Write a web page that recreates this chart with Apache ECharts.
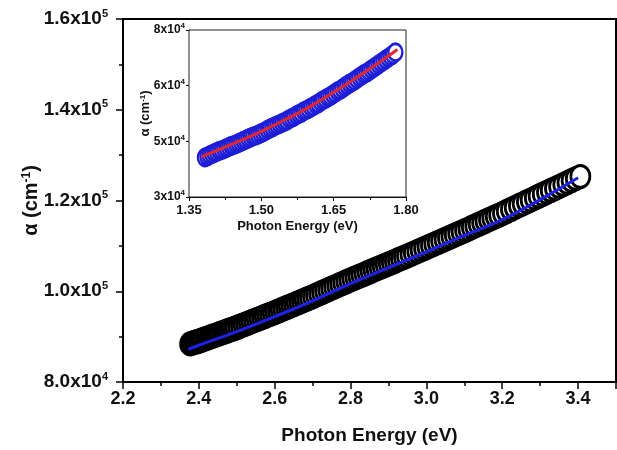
<!DOCTYPE html>
<html>
<head>
<meta charset="utf-8">
<script src="https://cdn.jsdelivr.net/npm/echarts@6/dist/echarts.min.js"></script>
<style>
  html, body { margin: 0; padding: 0; background: #fff; }
  #chart { width: 617px; height: 450px; }
</style>
</head>
<body>
<div id="chart"></div>
<script>
// main panel: measured points (eV, cm^-1)
const mainEnergy = [
  2.377, 2.383, 2.389, 2.395, 2.401, 2.407, 2.413, 2.419, 2.425, 2.431, 2.437, 2.443, 2.449, 2.455, 2.461, 2.467, 2.473, 2.479, 2.485, 2.491, 2.497,
  2.504, 2.511, 2.518, 2.525, 2.532, 2.539, 2.546, 2.553, 2.560, 2.567, 2.574, 2.581, 2.588, 2.595, 2.602, 2.609, 2.616, 2.623, 2.630, 2.637, 2.644, 2.651, 2.658, 2.665, 2.672, 2.679, 2.686, 2.693,
  2.701, 2.709, 2.717, 2.725, 2.733, 2.741, 2.749, 2.757, 2.765, 2.773, 2.781, 2.789, 2.797, 2.805, 2.813, 2.821, 2.829, 2.837, 2.845, 2.853, 2.861, 2.869, 2.877, 2.885, 2.893, 2.901, 2.909, 2.917, 2.925, 2.933, 2.941, 2.949,
  2.958, 2.967, 2.976, 2.985, 2.994, 3.003, 3.012, 3.021, 3.030, 3.039, 3.048, 3.057, 3.066, 3.075, 3.084, 3.093, 3.102, 3.111, 3.120, 3.129, 3.138, 3.147, 3.156, 3.165, 3.174, 3.183, 3.192,
  3.202, 3.212, 3.223, 3.233, 3.244, 3.254, 3.265, 3.275, 3.286, 3.296, 3.307, 3.318, 3.328, 3.339, 3.350, 3.361, 3.372, 3.383, 3.394, 3.406
]
const mainAlpha = [
  88400, 88560, 88720, 88880, 89030, 89210, 89390, 89570, 89750, 89930, 90110, 90290, 90470, 90650, 90830, 91010, 91190, 91370, 91550, 91730, 91910,
  92130, 92360, 92590, 92820, 93060, 93290, 93520, 93750, 93980, 94210, 94440, 94670, 94900, 95130, 95370, 95610, 95860, 96100, 96350, 96590, 96840, 97080, 97330, 97570, 97820, 98060, 98310, 98550,
  98840, 99140, 99430, 99730, 100030, 100320, 100620, 100910, 101210, 101510, 101800, 102100, 102390, 102680, 102960, 103240, 103520, 103800, 104080, 104360, 104640, 104920, 105200, 105480, 105760, 106040, 106320, 106610, 106900, 107190, 107480, 107760,
  108090, 108410, 108740, 109060, 109380, 109710, 110040, 110380, 110710, 111040, 111380, 111710, 112040, 112380, 112710, 113040, 113370, 113710, 114060, 114400, 114740, 115080, 115430, 115770, 116110, 116450, 116800,
  117180, 117580, 118020, 118420, 118860, 119260, 119700, 120100, 120540, 120940, 121380, 121810, 122210, 122640, 123080, 123510, 123950, 124380, 124820, 125290
]
// main panel: fitted curve (blue)
const fitEnergy = [2.372, 2.40, 2.50, 2.60, 2.70, 2.80, 2.90, 3.00, 3.10, 3.20, 3.30, 3.40]
const fitAlpha = [87200, 88100, 91100, 94400, 97900, 101700, 105200, 108700, 112300, 115800, 120200, 125000]

// inset: alpha is in inset axis units (equally spaced ticks labelled 3, 5, 6, 8 x10^4)
const insetEnergy = [
  1.383, 1.388, 1.393, 1.398, 1.403, 1.408, 1.413, 1.418, 1.423, 1.428, 1.433, 1.438, 1.443, 1.448, 1.453, 1.458, 1.463, 1.468, 1.473, 1.478,
  1.483, 1.488, 1.493, 1.498, 1.503, 1.508, 1.513, 1.518, 1.523, 1.528, 1.533, 1.538, 1.543, 1.548, 1.553, 1.558, 1.563, 1.568, 1.573, 1.578,
  1.583, 1.588, 1.593, 1.598, 1.603, 1.608, 1.613, 1.618, 1.623, 1.628, 1.633, 1.638, 1.643, 1.648, 1.653, 1.658, 1.663, 1.668, 1.673, 1.678,
  1.683, 1.688, 1.693, 1.698, 1.703, 1.708, 1.713, 1.718, 1.723, 1.728, 1.733, 1.738, 1.743, 1.748, 1.753, 1.758, 1.763, 1.768, 1.773, 1.778
]
const insetAlpha = [
  0.71, 0.73, 0.75, 0.77, 0.79, 0.81, 0.83, 0.84, 0.86, 0.88, 0.90, 0.92, 0.93, 0.95, 0.97, 0.99, 1.01, 1.03, 1.05, 1.07,
  1.09, 1.10, 1.12, 1.14, 1.16, 1.18, 1.21, 1.23, 1.25, 1.27, 1.29, 1.31, 1.33, 1.35, 1.37, 1.40, 1.42, 1.44, 1.47, 1.49,
  1.51, 1.54, 1.56, 1.58, 1.61, 1.63, 1.66, 1.68, 1.71, 1.74, 1.76, 1.79, 1.81, 1.84, 1.87, 1.90, 1.92, 1.95, 1.98, 2.01,
  2.04, 2.06, 2.09, 2.12, 2.15, 2.18, 2.21, 2.23, 2.26, 2.29, 2.32, 2.35, 2.38, 2.41, 2.44, 2.47, 2.50, 2.53, 2.56, 2.60
]
const insetFitEnergy = [1.376, 1.45, 1.50, 1.55, 1.60, 1.65, 1.70, 1.75, 1.782]
const insetFitAlpha = [0.72, 0.99, 1.18, 1.39, 1.62, 1.88, 2.16, 2.45, 2.65]
const insetYMantissa = ['3', '5', '6', '8']
const insetYExponent = '4'

const FONT = '"Liberation Sans", Arial, sans-serif'
const ELLIPSE = 'path://M0,-1A1,1,0,1,1,0,1A1,1,0,1,1,0,-1Z'

function zip(xs, ys) {
  return xs.map((x, i) => [x, ys[i]])
}

function sciLabel(v) {
  const exp = Math.floor(Math.log10(v) + 1e-9)
  const mant = (v / Math.pow(10, exp)).toFixed(1)
  return `{m|${mant}x10}{e|${exp}}`
}

const chart = echarts.init(document.getElementById('chart'), null, { renderer: 'canvas' })

chart.setOption({
  backgroundColor: '#fff',
  animation: false,
  grid: [
    { left: 123, right: 1, top: 19, bottom: 68, show: true, borderColor: '#000', borderWidth: 2, backgroundColor: 'transparent' },
    { left: 189, top: 30, width: 217, height: 167, show: true, borderColor: '#222', borderWidth: 1, backgroundColor: '#fff', z: 5 }
  ],
  xAxis: [
    {
      gridIndex: 0, type: 'value', min: 2.2, max: 3.5, interval: 0.2,
      name: 'Photon Energy (eV)', nameLocation: 'middle', nameGap: 44, nameMoveOverlap: false,
      nameTextStyle: { fontFamily: FONT, fontWeight: 'bold', fontSize: 19, color: '#111' },
      axisLine: { lineStyle: { color: '#000', width: 2 } },
      axisTick: { inside: false, length: 7, lineStyle: { color: '#000', width: 1.5 } },
      minorTick: { show: true, splitNumber: 2, length: 4, lineStyle: { color: '#000', width: 1.5 } },
      splitLine: { show: false },
      axisLabel: {
        margin: 8, fontFamily: FONT, fontWeight: 'bold', fontSize: 18, color: '#111',
        showMaxLabel: false, formatter: v => v.toFixed(1)
      }
    },
    {
      gridIndex: 1, type: 'value', min: 1.35, max: 1.80, interval: 0.15,
      name: 'Photon Energy (eV)', nameLocation: 'middle', nameGap: 23, nameMoveOverlap: false,
      nameTextStyle: { fontFamily: FONT, fontWeight: 'bold', fontSize: 13, color: '#111' },
      axisLine: { lineStyle: { color: '#000', width: 1 } },
      axisTick: { length: 4, lineStyle: { color: '#000' } },
      minorTick: { show: true, splitNumber: 2, length: 3, lineStyle: { color: '#000' } },
      splitLine: { show: false },
      axisLabel: { margin: 7, fontFamily: FONT, fontWeight: 'bold', fontSize: 13, color: '#111', formatter: v => v.toFixed(2) }
    }
  ],
  yAxis: [
    {
      gridIndex: 0, type: 'value', min: 80000, max: 160000, interval: 20000,
      name: '{a|\u03b1 (cm}{s|-1}{a|)}', nameLocation: 'middle', nameGap: 82, nameRotate: 90, nameMoveOverlap: false,
      nameTextStyle: {
        rich: {
          a: { fontFamily: FONT, fontWeight: 'bold', fontSize: 20, color: '#111' },
          s: { fontFamily: FONT, fontWeight: 'bold', fontSize: 12, color: '#111', verticalAlign: 'top' }
        }
      },
      axisLine: { lineStyle: { color: '#000', width: 2 } },
      axisTick: { length: 7, lineStyle: { color: '#000', width: 1.5 } },
      minorTick: { show: true, splitNumber: 2, length: 4, lineStyle: { color: '#000', width: 1.5 } },
      splitLine: { show: false },
      axisLabel: {
        margin: 15, formatter: sciLabel,
        rich: {
          m: { fontFamily: FONT, fontWeight: 'bold', fontSize: 19, color: '#111', lineHeight: 22 },
          e: { fontFamily: FONT, fontWeight: 'bold', fontSize: 11, color: '#111', verticalAlign: 'top', lineHeight: 22 }
        }
      }
    },
    {
      gridIndex: 1, type: 'value', min: 0, max: 3, interval: 1,
      name: '{a|\u03b1 (cm}{s|-1}{a|)}', nameLocation: 'middle', nameGap: 37, nameRotate: 90, nameMoveOverlap: false,
      nameTextStyle: {
        rich: {
          a: { fontFamily: FONT, fontWeight: 'bold', fontSize: 13, color: '#111' },
          s: { fontFamily: FONT, fontWeight: 'bold', fontSize: 8, color: '#111', verticalAlign: 'top' }
        }
      },
      axisLine: { lineStyle: { color: '#000', width: 1 } },
      axisTick: { length: 3, lineStyle: { color: '#000' } },
      splitLine: { show: false },
      axisLabel: {
        margin: 4,
        formatter: v => `{m|${insetYMantissa[v]}x10}{e|${insetYExponent}}`,
        rich: {
          m: { fontFamily: FONT, fontWeight: 'bold', fontSize: 12, color: '#111', lineHeight: 16 },
          e: { fontFamily: FONT, fontWeight: 'bold', fontSize: 8, color: '#111', verticalAlign: 'top', lineHeight: 16 }
        }
      }
    }
  ],
  series: [
    {
      type: 'scatter', xAxisIndex: 0, yAxisIndex: 0,
      data: zip(mainEnergy, mainAlpha),
      symbol: ELLIPSE, symbolSize: [19, 22], symbolKeepAspect: false,
      itemStyle: { color: '#fff', borderColor: '#000', borderWidth: 3, opacity: 1 },
      z: 2
    },
    {
      type: 'line', xAxisIndex: 0, yAxisIndex: 0,
      data: zip(fitEnergy, fitAlpha),
      smooth: true, showSymbol: false, symbol: 'none',
      lineStyle: { color: '#1c22e8', width: 3 },
      z: 3
    },
    {
      type: 'scatter', xAxisIndex: 1, yAxisIndex: 1,
      data: zip(insetEnergy, insetAlpha),
      symbol: ELLIPSE, symbolSize: [14, 17], symbolKeepAspect: false,
      itemStyle: { color: '#fff', borderColor: '#1e1ed6', borderWidth: 2.6, opacity: 1 },
      z: 6
    },
    {
      type: 'line', xAxisIndex: 1, yAxisIndex: 1,
      data: zip(insetFitEnergy, insetFitAlpha),
      smooth: true, showSymbol: false, symbol: 'none',
      lineStyle: { color: '#e3262e', width: 3 },
      z: 7
    }
  ]
})
</script>
</body>
</html>
